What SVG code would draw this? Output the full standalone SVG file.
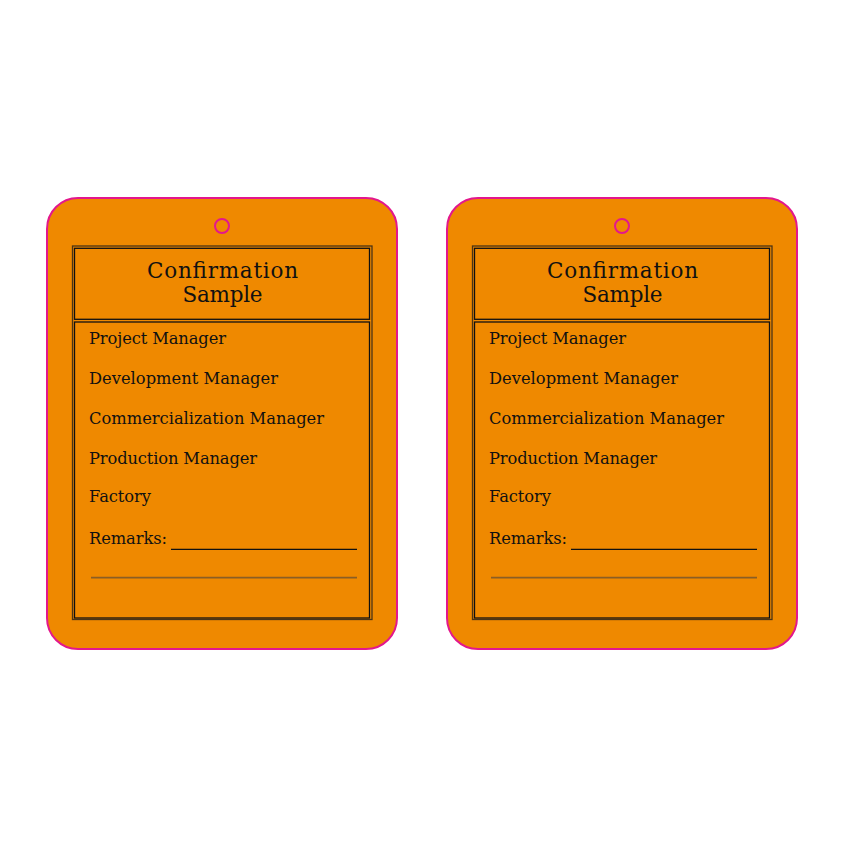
<svg xmlns="http://www.w3.org/2000/svg" width="845" height="846" viewBox="0 0 845 846">
<defs>
<style>
.card{fill:#ef8900;stroke:#e3178c;stroke-width:2}
.hole{fill:none;stroke:#e3178c;stroke-width:2}
.outer{fill:none;stroke:#4a3416;stroke-width:1.3}
.inner{fill:none;stroke:#111;stroke-width:1.3}
.title{font-family:"DejaVu Serif","Liberation Serif",serif;font-size:21.5px;fill:#111;text-anchor:middle}
.item{font-family:"DejaVu Serif","Liberation Serif",serif;font-size:16.3px;fill:#111}
.uline{stroke:#111;stroke-width:1.3}
.gline{stroke:#8a5e25;stroke-width:1.8}
</style>
<g id="tag">
<rect class="card" x="47" y="198" width="350" height="451" rx="31" ry="31"/>
<circle class="hole" cx="222" cy="226" r="7"/>
<rect class="outer" x="72.5" y="246" width="299.5" height="373.5"/>
<rect class="inner" x="74.5" y="248.3" width="295" height="71"/>
<rect class="inner" x="74.5" y="322" width="295" height="296"/>
<text class="title" x="222.5" y="277.5" textLength="151" lengthAdjust="spacing">Confirmation</text>
<text class="title" x="222.5" y="302.3" textLength="80" lengthAdjust="spacing">Sample</text>
<text class="item" x="89" y="344" textLength="137" lengthAdjust="spacing">Project Manager</text>
<text class="item" x="89" y="384" textLength="189" lengthAdjust="spacing">Development Manager</text>
<text class="item" x="89" y="424" textLength="235" lengthAdjust="spacing">Commercialization Manager</text>
<text class="item" x="89" y="464.3" textLength="168" lengthAdjust="spacing">Production Manager</text>
<text class="item" x="89" y="501.7" textLength="62" lengthAdjust="spacing">Factory</text>
<text class="item" x="89" y="544" textLength="78" lengthAdjust="spacing">Remarks:</text>
<line class="uline" x1="171" y1="549.3" x2="357" y2="549.3"/>
<line class="gline" x1="91" y1="577.7" x2="357" y2="577.7"/>
</g>
</defs>
<g id="tag-left"><use href="#tag"/></g>
<g id="tag-right"><use href="#tag" x="400"/></g>
<g id="connectors"/>
</svg>
